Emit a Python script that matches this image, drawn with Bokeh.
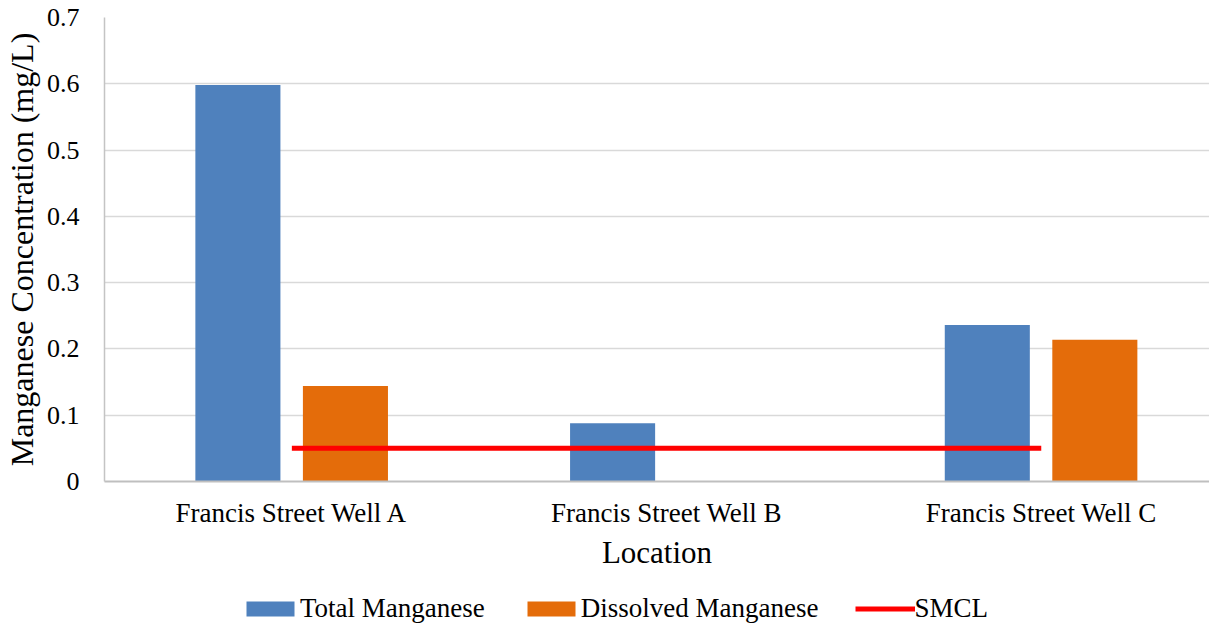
from bokeh.plotting import figure
from bokeh.layouts import column
from bokeh.models import Range1d, FixedTicker, Legend, LegendItem, ColumnDataSource
from bokeh.embed import file_html
from bokeh.resources import INLINE

# ---- data ----
locations = ["Francis Street Well A", "Francis Street Well B", "Francis Street Well C"]
total_mn = [0.598, 0.088, 0.236]
dissolved_mn = [0.144, 0.0, 0.214]
smcl = [0.05, 0.05, 0.05]
y_ticks = [0, 0.1, 0.2, 0.3, 0.4, 0.5, 0.6, 0.7]
y_tick_labels = ["0", "0.1", "0.2", "0.3", "0.4", "0.5", "0.6", "0.7"]
series_names = ["Total Manganese", "Dissolved Manganese", "SMCL"]

BLUE = "#4f81bd"
ORANGE = "#e46c0a"
RED = "#ff0000"
FONT = "Liberation Serif"

pos = [i + 0.5 for i in range(len(locations))]
src = ColumnDataSource(dict(
    pos=pos,
    pos_total=[x - 0.144 for x in pos],
    pos_diss=[x + 0.143 for x in pos],
    total=total_mn,
    diss=dissolved_mn,
    smcl=smcl,
))

p = figure(width=1209, height=590, output_backend="svg", toolbar_location=None,
           x_range=Range1d(0, 2.949), y_range=Range1d(0, 0.7),
           min_border_left=103, min_border_right=0, min_border_top=17,
           min_border_bottom=109)
p.outline_line_color = None
p.background_fill_color = "white"
p.border_fill_color = "white"

p.vbar(x="pos_total", top="total", width=0.227, source=src,
       fill_color=BLUE, line_color=None)
p.vbar(x="pos_diss", top="diss", width=0.227, source=src,
       fill_color=ORANGE, line_color=None)
p.line(x="pos", y="smcl", source=src, line_color=RED, line_width=5,
       line_cap="butt")

# grid
p.xgrid.visible = False
p.ygrid.grid_line_color = "#d9d9d9"
p.ygrid.grid_line_width = 1.5
p.ygrid.ticker = FixedTicker(ticks=y_ticks)

# y axis
ya = p.yaxis[0]
ya.ticker = FixedTicker(ticks=y_ticks)
ya.major_label_overrides = {t: l for t, l in zip(y_ticks, y_tick_labels)}
ya.major_tick_line_color = None
ya.minor_tick_line_color = None
ya.major_tick_out = 0
ya.major_tick_in = 0
ya.major_label_standoff = 25
ya.axis_line_color = "#c4c4c4"
ya.axis_line_width = 1.5
ya.major_label_text_font = FONT
ya.major_label_text_font_size = "26px"
ya.major_label_text_color = "#000000"
ya.axis_label = "Manganese Concentration (mg/L)"
ya.axis_label_text_font = FONT
ya.axis_label_text_font_size = "32px"
ya.axis_label_text_font_style = "normal"
ya.axis_label_text_color = "#000000"
ya.axis_label_standoff = 4

# x axis
xa = p.xaxis[0]
xa.ticker = FixedTicker(ticks=pos)
xa.major_label_overrides = {x: l for x, l in zip(pos, locations)}
xa.major_tick_line_color = None
xa.minor_tick_line_color = None
xa.major_tick_out = 0
xa.major_tick_in = 0
xa.major_label_standoff = 16
xa.axis_line_color = "#bfbfbf"
xa.axis_line_width = 2
xa.major_label_text_font = FONT
xa.major_label_text_font_size = "27px"
xa.major_label_text_color = "#000000"
xa.axis_label = "Location"
xa.axis_label_text_font = FONT
xa.axis_label_text_font_size = "31px"
xa.axis_label_text_font_style = "normal"
xa.axis_label_text_color = "#000000"
xa.axis_label_standoff = 4

# ---- legend strip below the chart (its ranges keep the data out of view) ----
leg = figure(width=1209, height=34, output_backend="svg", toolbar_location=None,
             x_range=Range1d(10, 11), y_range=Range1d(10, 11),
             x_axis_location=None, y_axis_location=None, min_border=0)
leg.outline_line_color = None
leg.xgrid.visible = False
leg.ygrid.visible = False
lr_total = leg.vbar(x="pos_total", top="total", width=0.227, source=src,
                    fill_color=BLUE, line_color=None)
lr_diss = leg.vbar(x="pos_diss", top="diss", width=0.227, source=src,
                   fill_color=ORANGE, line_color=None)
lr_smcl = leg.line(x="pos", y="smcl", source=src, line_color=RED, line_width=5,
                   line_cap="butt")

legend = Legend(items=[
    LegendItem(label=series_names[0], renderers=[lr_total]),
    LegendItem(label=series_names[1], renderers=[lr_diss]),
    LegendItem(label=series_names[2], renderers=[lr_smcl]),
], orientation="horizontal", location=(136, 0),
    glyph_width=60, glyph_height=19, label_standoff=0, spacing=36,
    padding=0, margin=0, border_line_color=None, background_fill_alpha=0,
    label_text_font=FONT, label_text_font_size="27px", label_text_color="#000000")
leg.add_layout(legend)

layout = column(p, leg, spacing=0)
open("out.html", "w").write(file_html(layout, INLINE))
